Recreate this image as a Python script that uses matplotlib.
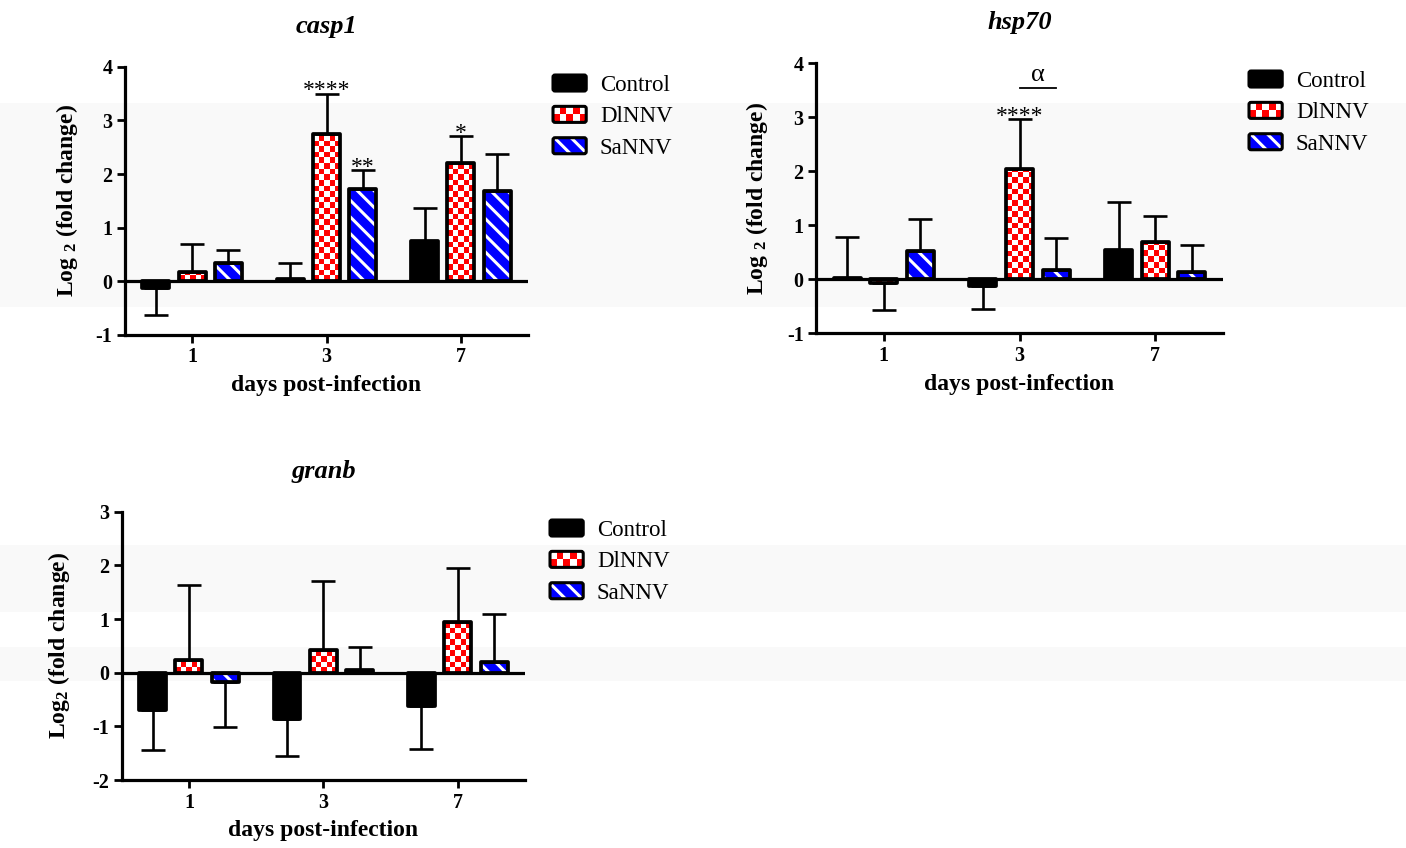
import numpy as np
import matplotlib
matplotlib.use('Agg')
import matplotlib.pyplot as plt
from matplotlib.colors import ListedColormap
from matplotlib.patches import Rectangle, FancyBboxPatch, Patch
from matplotlib.legend_handler import HandlerBase

plt.rcParams['font.family'] = 'Liberation Serif'
plt.rcParams['mathtext.fontset'] = 'custom'
plt.rcParams['mathtext.rm'] = 'Liberation Serif:bold'
plt.rcParams['mathtext.it'] = 'Liberation Serif:bold:italic'
plt.rcParams['mathtext.bf'] = 'Liberation Serif:bold'
plt.rcParams['mathtext.default'] = 'rm'
plt.rcParams['axes.unicode_minus'] = False
plt.rcParams['hatch.linewidth'] = 2.2

# data (log2 fold change, mean and one-sided SD)
days = ['1', '3', '7']
groups = ['Control', 'DlNNV', 'SaNNV']

casp1_control = [-0.12, 0.04, 0.76]
casp1_dlnnv = [0.17, 2.75, 2.21]
casp1_sannv = [0.34, 1.73, 1.68]
casp1_control_sd = [0.50, 0.30, 0.61]
casp1_dlnnv_sd = [0.53, 0.75, 0.49]
casp1_sannv_sd = [0.25, 0.35, 0.70]

hsp70_control = [0.02, -0.12, 0.54]
hsp70_dlnnv = [-0.07, 2.04, 0.69]
hsp70_sannv = [0.52, 0.17, 0.13]
hsp70_control_sd = [0.76, 0.43, 0.90]
hsp70_dlnnv_sd = [0.50, 0.93, 0.48]
hsp70_sannv_sd = [0.60, 0.59, 0.51]

granb_control = [-0.70, -0.87, -0.62]
granb_dlnnv = [0.23, 0.42, 0.94]
granb_sannv = [-0.17, 0.05, 0.20]
granb_control_sd = [0.74, 0.69, 0.80]
granb_dlnnv_sd = [1.41, 1.29, 1.02]
granb_sannv_sd = [0.84, 0.43, 0.90]

# (day index, group index, label)
casp1_stars = [(1, 1, '****'), (1, 2, '**'), (2, 1, '*')]
hsp70_stars = [(1, 1, '****')]
hsp70_alpha = (1, 1, 2, 'α', 3.55)  # day, from group, to group, label, height
granb_stars = []

W, H = 1406, 848
fig = plt.figure(figsize=(W / 100, H / 100), dpi=100)

# faint grey bands of the scanned original
for top, bot in [(103, 307), (545, 612), (647, 681)]:
    fig.add_artist(Rectangle((0, 1 - bot / H), 1, (bot - top) / H, transform=fig.transFigure,
                             facecolor='#f9f9f9', edgecolor='none', zorder=-10))

offsets = [-0.27, 0.0, 0.27]
bw = 0.2
lw = 2.3
bar_lw = 2.7


def px(l, t, r, b):
    return [l / W, 1 - b / H, (r - l) / W, (b - t) / H]


def checker(ax, bar, sq=5.6):
    p0 = ax.transData.transform((0, 0))
    p1 = ax.transData.transform((1, 1))
    dx = sq / (p1[0] - p0[0])
    dy = sq / (p1[1] - p0[1])
    x0, h = bar.get_x(), bar.get_height()
    nx = int(np.ceil(bar.get_width() / dx)) + 1
    ny = int(np.ceil(abs(h) / dy)) + 1
    grid = np.add.outer(np.arange(ny), np.arange(nx)) % 2
    if h >= 0:
        ext = (x0, x0 + nx * dx, 0, ny * dy)
    else:
        ext = (x0, x0 + nx * dx, -ny * dy, 0)
    im = ax.imshow(grid, cmap=ListedColormap(['#ff0000', 'white']), extent=ext, origin='lower',
                   aspect='auto', interpolation='nearest', zorder=2.1)
    im.set_clip_path(bar)


class BarKey(HandlerBase):
    def __init__(self, kind):
        super().__init__()
        self.kind = kind

    def create_artists(self, legend, orig_handle, xd, yd, w, h, fontsize, trans):
        x0, y0 = -xd, -yd
        arts = []
        if self.kind == 'checker':
            arts.append(Rectangle((x0, y0), w, h, facecolor='white', edgecolor='none', transform=trans))
            nx, ny = 5, 2
            for i in range(nx):
                for j in range(ny):
                    if (i + j) % 2 == 0:
                        arts.append(Rectangle((x0 + i * w / nx, y0 + j * h / ny), w / nx, h / ny,
                                              facecolor='#ff0000', edgecolor='none', transform=trans))
        elif self.kind == 'stripes':
            arts.append(Rectangle((x0, y0), w, h, facecolor='#0000ff', edgecolor='white', lw=0,
                                  hatch='\\\\', transform=trans))
        else:
            arts.append(Rectangle((x0, y0), w, h, facecolor='black', edgecolor='none', transform=trans))
        arts.append(FancyBboxPatch((x0, y0), w, h, boxstyle='round,pad=0,rounding_size=1.5',
                                   facecolor='none', edgecolor='black', lw=2.2, transform=trans))
        return arts


def panel(rect, title, means, sds, yticks, ylabel, ylab_x, stars, leg_xy, alpha=None):
    ax = fig.add_axes(rect)
    ax.set_facecolor('none')
    x = np.arange(len(days))
    ax.set_xlim(-0.5, 2.5)
    ax.set_ylim(yticks[0], yticks[-1])

    for k, (m, s) in enumerate(zip(means, sds)):
        m = np.array(m)
        s = np.array(s)
        xs = x + offsets[k]
        if k == 0:
            ax.bar(xs, m, bw, color='black', edgecolor='none', zorder=2)
        elif k == 1:
            base = ax.bar(xs, m, bw, color='white', edgecolor='none', zorder=2)
            for b in base:
                checker(ax, b)
        else:
            ax.bar(xs, m, bw, facecolor='#0000ff', edgecolor='white', lw=0, hatch='\\\\', zorder=2)
        ax.bar(xs, m, bw, fill=False, edgecolor='black', lw=bar_lw, joinstyle='round', zorder=3)
        lower = np.where(m < 0, s, 0)
        upper = np.where(m >= 0, s, 0)
        ax.errorbar(xs, m, yerr=[lower, upper], fmt='none', ecolor='black', elinewidth=1.9,
                    capsize=8.5, capthick=1.9, zorder=2.5)
        for d, g, lab in stars:
            if g == k:
                ax.annotate(lab, (xs[d], m[d] + s[d]), xytext=(0, -2), textcoords='offset points',
                            ha='center', va='baseline', fontsize=17)

    if alpha is not None:
        d, g1, g2, lab, yy = alpha
        xa, xb = x[d] + offsets[g1], x[d] + offsets[g2]
        ax.plot([xa, xb], [yy, yy], color='black', lw=1.3, clip_on=False)
        ax.annotate(lab, ((xa + xb) / 2, yy), xytext=(0, 1), textcoords='offset points',
                    ha='center', va='bottom', fontsize=19, annotation_clip=False)

    ax.axhline(0, color='black', lw=lw, zorder=4)
    for sp in ['top', 'right']:
        ax.spines[sp].set_visible(False)
    for sp in ['left', 'bottom']:
        ax.spines[sp].set_linewidth(lw)
    ax.set_xticks(x)
    ax.set_xticklabels(days)
    ax.set_yticks(yticks)
    ax.set_yticklabels([str(v) for v in yticks])
    ax.tick_params(direction='out', length=6, width=2, labelsize=14.5, pad=3)
    for t in ax.get_xticklabels() + ax.get_yticklabels():
        t.set_fontweight('bold')

    ax.text(0.5, 1.15, title, transform=ax.transAxes, ha='center', va='center',
            fontsize=19, fontweight='bold', style='italic')
    ax.text(0.5, -0.19, 'days post-infection', transform=ax.transAxes, ha='center', va='center',
            fontsize=17, fontweight='bold')
    ax.text(ylab_x, 0.5, ylabel, transform=ax.transAxes, ha='center', va='center', rotation=90,
            fontsize=17, fontweight='bold')

    handles = [Patch(), Patch(), Patch()]
    hmap = {handles[0]: BarKey('solid'), handles[1]: BarKey('checker'), handles[2]: BarKey('stripes')}
    fig.legend(handles, groups, handler_map=hmap, loc='upper left',
               bbox_to_anchor=(leg_xy[0] / W, 1 - leg_xy[1] / H), bbox_transform=fig.transFigure,
               frameon=False, fontsize=16.5, handlelength=1.45, handleheight=0.7, handletextpad=0.6,
               labelspacing=0.45, borderpad=0, borderaxespad=0)
    return ax


panel(px(125, 66.7, 528, 335), 'casp1',
      [casp1_control, casp1_dlnnv, casp1_sannv],
      [casp1_control_sd, casp1_dlnnv_sd, casp1_sannv_sd],
      [-1, 0, 1, 2, 3, 4], 'Log $_2$ (fold change)', -0.145, casp1_stars, (553, 75))

panel(px(816, 63.3, 1223, 333.3), 'hsp70',
      [hsp70_control, hsp70_dlnnv, hsp70_sannv],
      [hsp70_control_sd, hsp70_dlnnv_sd, hsp70_sannv_sd],
      [-1, 0, 1, 2, 3, 4], 'Log $_2$ (fold change)', -0.145, hsp70_stars, (1249, 71),
      alpha=hsp70_alpha)

panel(px(121.7, 511.7, 525, 780), 'granb',
      [granb_control, granb_dlnnv, granb_sannv],
      [granb_control_sd, granb_dlnnv_sd, granb_sannv_sd],
      [-2, -1, 0, 1, 2, 3], 'Log$_2$ (fold change)', -0.155, granb_stars, (550, 520))

fig.savefig('out.png', dpi=100)
